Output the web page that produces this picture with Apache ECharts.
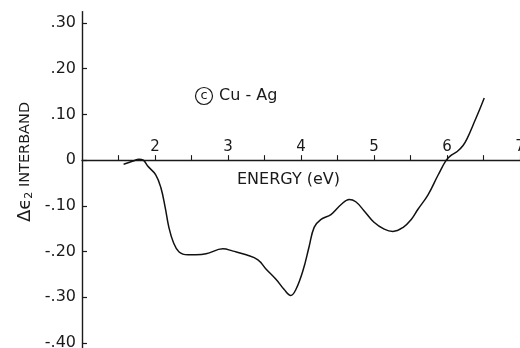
<!DOCTYPE html>
<html>
<head>
<meta charset="utf-8">
<script src="https://cdn.jsdelivr.net/npm/echarts@6/dist/echarts.min.js"></script>
<style>
  html, body { margin: 0; padding: 0; background: #fff; }
  #chart { width: 520px; height: 348px; }
</style>
</head>
<body>
<div id="chart"></div>
<script>
// Interband difference spectrum, Cu-Ag alloy
const energy = [1.57, 1.70, 1.78, 1.84, 1.90, 2.01, 2.08, 2.14, 2.19, 2.25, 2.33, 2.45, 2.56, 2.70,
  2.93, 3.07, 3.25, 3.41, 3.52, 3.66, 3.77, 3.86, 3.93, 4.03, 4.11, 4.18, 4.27, 4.41, 4.55,
  4.66, 4.75, 4.86, 5.00, 5.14, 5.26, 5.40, 5.51, 5.60, 5.74, 5.88, 5.99, 6.06, 6.14, 6.22,
  6.29, 6.36, 6.44, 6.51];
const deltaEps2 = [-0.009, -0.002, 0.002, 0.000, -0.013, -0.032, -0.060, -0.104, -0.147, -0.179,
  -0.201, -0.207, -0.207, -0.205, -0.194, -0.199, -0.207, -0.218, -0.238, -0.261, -0.283,
  -0.296, -0.283, -0.240, -0.190, -0.147, -0.130, -0.119, -0.097, -0.086, -0.091, -0.110,
  -0.136, -0.151, -0.156, -0.147, -0.130, -0.108, -0.076, -0.032, 0.000, 0.011, 0.019,
  0.032, 0.052, 0.078, 0.108, 0.136];

const xTickValues = [1.5, 2, 2.5, 3, 3.5, 4, 4.5, 5, 5.5, 6, 6.5, 7];
const xLabelValues = [2, 3, 4, 5, 6, 7];
const yTickValues = [0.3, 0.2, 0.1, 0, -0.1, -0.2, -0.3, -0.4];
const yTickLabels = ['.30', '.20', '.10', '0', '-.10', '-.20', '-.30', '-.40'];

const FONT = 'DejaVu Sans';
const INK = '#1a1a1a';

// axis extents and plot box
const X_MIN = 1, X_MAX = 7;
const Y_MIN = -0.411, Y_MAX = 0.325;
const GRID = { left: 82, right: 0, top: 11.6, bottom: 0 };
const CHART_H = 348;
const gridH = CHART_H - GRID.top - GRID.bottom;
// energy axis sits on the zero line of the ordinate
const zeroFromBottom = (0 - Y_MIN) / (Y_MAX - Y_MIN) * gridH;

const chart = echarts.init(document.getElementById('chart'), null, { renderer: 'canvas' });

chart.setOption({
  backgroundColor: '#fff',
  animation: false,
  grid: Object.assign({ containLabel: false, outerBoundsMode: 'none' }, GRID),
  xAxis: {
    type: 'value',
    min: X_MIN, max: X_MAX, interval: 0.5,
    position: 'bottom',
    offset: -zeroFromBottom,
    axisLine: { show: true, onZero: false, lineStyle: { color: INK, width: 1.4 } },
    axisTick: { show: true, inside: true, length: 5, customValues: xTickValues,
      lineStyle: { color: INK, width: 1.1 } },
    axisLabel: { show: true, inside: true, margin: 6, customValues: xLabelValues,
      color: INK, fontFamily: FONT, fontSize: 15, formatter: v => String(v) },
    splitLine: { show: false }
  },
  yAxis: {
    type: 'value',
    min: Y_MIN, max: Y_MAX,
    axisLine: { show: true, onZero: false, lineStyle: { color: INK, width: 1.4 } },
    axisTick: { show: true, inside: true, length: 5, customValues: yTickValues,
      lineStyle: { color: INK, width: 1.2 } },
    axisLabel: { show: true, margin: 6, customValues: yTickValues,
      color: INK, fontFamily: FONT, fontSize: 16, padding: [0, 0, 4, 0],
      formatter: v => {
        const i = yTickValues.findIndex(t => Math.abs(t - v) < 1e-6);
        return i >= 0 ? yTickLabels[i] : '';
      } },
    splitLine: { show: false }
  },
  series: [{
    type: 'line',
    data: energy.map((e, i) => [e, deltaEps2[i]]),
    smooth: 0.4,
    showSymbol: false,
    lineStyle: { color: '#111', width: 1.5 },
    silent: true
  }],
  graphic: [
    { type: 'text', x: 25, y: 162, rotation: Math.PI / 2,
      style: {
        text: '{g|Δϵ}{s|2}{t| INTERBAND}',
        align: 'center', verticalAlign: 'middle', fill: INK,
        rich: {
          g: { fontFamily: FONT, fontSize: 18, lineHeight: 20, fill: INK },
          s: { fontFamily: FONT, fontSize: 11, lineHeight: 20, verticalAlign: 'bottom', fill: INK },
          t: { fontFamily: FONT, fontSize: 14.5, lineHeight: 20, fill: INK }
        }
      } },
    { type: 'text', x: 237, y: 180,
      style: { text: 'ENERGY (eV)', font: '16px "DejaVu Sans"', fill: INK, verticalAlign: 'middle' } },
    { type: 'circle', shape: { cx: 204, cy: 96, r: 8.5 },
      style: { fill: 'none', stroke: INK, lineWidth: 1.2 } },
    { type: 'text', x: 204, y: 96,
      style: { text: 'c', font: '13px "DejaVu Sans"', fill: INK, align: 'center', verticalAlign: 'middle' } },
    { type: 'text', x: 219, y: 96,
      style: { text: 'Cu - Ag', font: '16px "DejaVu Sans"', fill: INK, verticalAlign: 'middle' } }
  ]
});
</script>
</body>
</html>
